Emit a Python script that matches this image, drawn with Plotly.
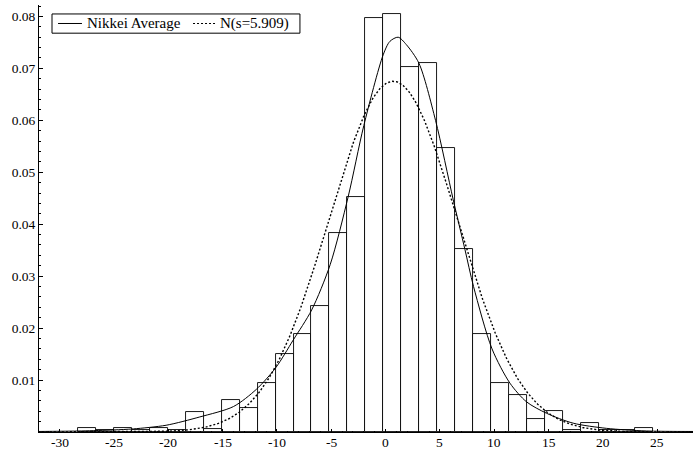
import numpy as np
import plotly.graph_objects as go

# Histogram (density) of Nikkei Average returns
bin_start = -28.31
bin_width = 1.653
bar_heights = [0.0007, 0.0003, 0.0007, 0.0003, 0.0007, 0.0003, 0.0038, 0.0006,
               0.0061, 0.0047, 0.0094, 0.0150, 0.0188, 0.0243, 0.0383, 0.0453,
               0.0797, 0.0804, 0.0702, 0.0711, 0.0546, 0.0352, 0.0188, 0.0095,
               0.0071, 0.0025, 0.0040, 0.0003, 0.0017, 0.0003, 0.0003, 0.0008]

# Fitted density of the Nikkei Average
nikkei_x = [-32, -28, -25, -23.2, -20.2, -17.1, -14.0, -11.9, -10.1, -8.5, -6.8,
            -5.1, -3.44, -2.0, -0.22, 0.4, 1.16, 1.9, 3.07, 4.6, 6.23, 7.3, 8.1,
            9.8, 11.45, 12.98, 14.83, 17.27, 20.35, 24, 28.3]
nikkei_y = [0.0001, 0.0002, 0.0004, 0.0006, 0.0013, 0.0029, 0.0049, 0.0082, 0.0124,
            0.0177, 0.0235, 0.0322, 0.0453, 0.0590, 0.0726, 0.0752, 0.0760, 0.0746,
            0.0710, 0.0600, 0.0447, 0.0352, 0.0280, 0.0160, 0.0094, 0.0058, 0.0036,
            0.0017, 0.0007, 0.0002, 0.0001]

# Normal reference N(mu, s)
normal_mu = 0.70
normal_s = 5.909

series_names = ["Nikkei Average", "N(s=5.909)"]

x_tickvals = [-30, -25, -20, -15, -10, -5, 0, 5, 10, 15, 20, 25]
x_ticktext = ["-30", "-25", "-20", "-15", "-10", "-5", "0", "5", "10", "15", "20", "25"]
y_tickvals = [0.01, 0.02, 0.03, 0.04, 0.05, 0.06, 0.07, 0.08]
y_ticktext = ["0.01", "0.02", "0.03", "0.04", "0.05", "0.06", "0.07", "0.08"]

centers = [bin_start + (i + 0.5) * bin_width for i in range(len(bar_heights))]

xs = np.linspace(-32, 28.3, 600)
normal_y = np.exp(-0.5 * ((xs - normal_mu) / normal_s) ** 2) / (normal_s * np.sqrt(2 * np.pi))

FONT = "Liberation Serif"
TICK_SIZE = 13.5
LEG_SIZE = 15
DOTS = "2px,2px"

fig = go.Figure()
fig.add_trace(go.Bar(x=centers, y=bar_heights, width=bin_width,
                     marker=dict(color="white", line=dict(color="black", width=0.9)),
                     showlegend=False, hoverinfo="skip"))
fig.add_trace(go.Scatter(x=nikkei_x, y=nikkei_y, mode="lines", name=series_names[0],
                         showlegend=False,
                         line=dict(color="black", width=1, shape="spline", smoothing=0.8)))
fig.add_trace(go.Scatter(x=xs, y=normal_y, mode="lines", name=series_names[1],
                         showlegend=False,
                         line=dict(color="black", width=1.4, dash=DOTS)))

# x tick labels as text just under the axis
for v, t in zip(x_tickvals, x_ticktext):
    fig.add_annotation(x=v, y=0, xref="x", yref="paper", text=t, showarrow=False,
                       xanchor="center", yanchor="top", yshift=-1,
                       font=dict(family=FONT, size=TICK_SIZE, color="black"))

# framed legend (upper left)
fig.add_shape(type="rect", xref="paper", yref="paper", x0=0.0199, x1=0.399,
              y0=0.934, y1=0.979, line=dict(color="black", width=1),
              fillcolor="white", layer="above")
fig.add_shape(type="line", xref="paper", yref="paper", x0=0.0291, x1=0.0657,
              y0=0.9567, y1=0.9567, line=dict(color="black", width=1), layer="above")
fig.add_shape(type="line", xref="paper", yref="paper", x0=0.2355, x1=0.2722,
              y0=0.9567, y1=0.9567, line=dict(color="black", width=1.2, dash=DOTS),
              layer="above")
fig.add_annotation(x=0.0734, y=0.9567, xref="paper", yref="paper", text=series_names[0],
                   showarrow=False, xanchor="left", yanchor="middle", xshift=-2,
                   font=dict(family=FONT, size=LEG_SIZE, color="black"))
fig.add_annotation(x=0.2768, y=0.9567, xref="paper", yref="paper", text=series_names[1],
                   showarrow=False, xanchor="left", yanchor="middle", xshift=-2,
                   font=dict(family=FONT, size=LEG_SIZE, color="black"))

fig.update_layout(
    width=694, height=449,
    margin=dict(l=39, r=1, t=5, b=17),
    paper_bgcolor="white", plot_bgcolor="white",
    font=dict(family=FONT, size=TICK_SIZE, color="black"),
    bargap=0,
    showlegend=False,
    xaxis=dict(range=[-31.9, 28.3], showgrid=False, zeroline=False, automargin=False,
               showline=True, linecolor="black", linewidth=1,
               tickmode="array", tickvals=x_tickvals, showticklabels=False,
               ticks="inside", ticklen=3, tickcolor="black", tickwidth=1,
               minor=dict(ticks="inside", dtick=1, tick0=0, ticklen=1.5,
                          tickcolor="black", tickwidth=1, showgrid=False)),
    yaxis=dict(range=[0, 0.0822], showgrid=False, zeroline=False, automargin=False,
               showline=True, linecolor="black", linewidth=1,
               tickmode="array", tickvals=y_tickvals, ticktext=y_ticktext,
               ticks="inside", ticklen=4, tickcolor="black", tickwidth=1,
               minor=dict(ticks="inside", dtick=0.002, tick0=0, ticklen=2,
                          tickcolor="black", tickwidth=1, showgrid=False),
               tickfont=dict(family=FONT, size=TICK_SIZE, color="black")),
)

fig.write_html("out.html", config={"displayModeBar": False},
               post_script="document.body.style.margin='0';document.body.style.padding='0';")
